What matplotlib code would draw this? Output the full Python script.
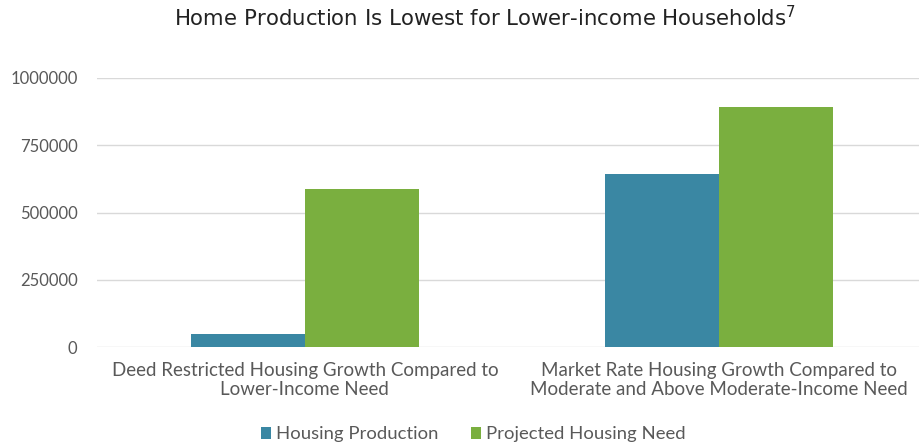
import numpy as np
import matplotlib
matplotlib.use("Agg")
import matplotlib.pyplot as plt

categories = ["Deed Restricted Housing Growth Compared to\nLower-Income Need",
              "Market Rate Housing Growth Compared to\nModerate and Above Moderate-Income Need"]
production = [48000, 643000]
need = [587000, 892000]
yticks = [0, 250000, 500000, 750000, 1000000]

plt.rcParams["font.family"] = ["Lato", "DejaVu Sans"]

fig = plt.figure(figsize=(9.19, 4.47), dpi=100)
ax = fig.add_axes([97 / 919, 1 - 347 / 447, 1 - 97 / 919, (347 - 78) / 447])

x = np.arange(len(categories))
w = 0.275
ax.bar(x - w / 2, production, w, color="#3a87a3", label="Housing Production", zorder=3)
ax.bar(x + w / 2, need, w, color="#7aaf3f", label="Projected Housing Need", zorder=3)

ax.set_xlim(-0.502, 1.483)
ax.set_ylim(0, 1000000)
ax.set_yticks(yticks)
ax.set_yticklabels([str(v) for v in yticks])
ax.yaxis.grid(True, color="#d9d9d9", linewidth=1, zorder=0)
for s in ax.spines.values():
    s.set_visible(False)
ax.tick_params(axis="both", length=0, labelsize=12, colors="#595959")
ax.tick_params(axis="y", pad=14)
ax.set_xticks(x)
ax.set_xticklabels(categories, fontsize=13.5, color="#595959", linespacing=1.15)
ax.tick_params(axis="x", pad=11)

fig.text(0.528, 0.96, "Home Production Is Lowest for Lower-income Households$^7$",
         ha="center", va="center", fontsize=15.3, color="#222222",
         family=["DejaVu Sans"])

fig.legend(loc="center", bbox_to_anchor=(0.515, 0.028), ncol=2, frameon=False,
           fontsize=13.3, handlelength=0.55, handleheight=0.55, handletextpad=0.25,
           columnspacing=1.8, labelcolor="#595959")

fig.savefig("out.png", dpi=100)
